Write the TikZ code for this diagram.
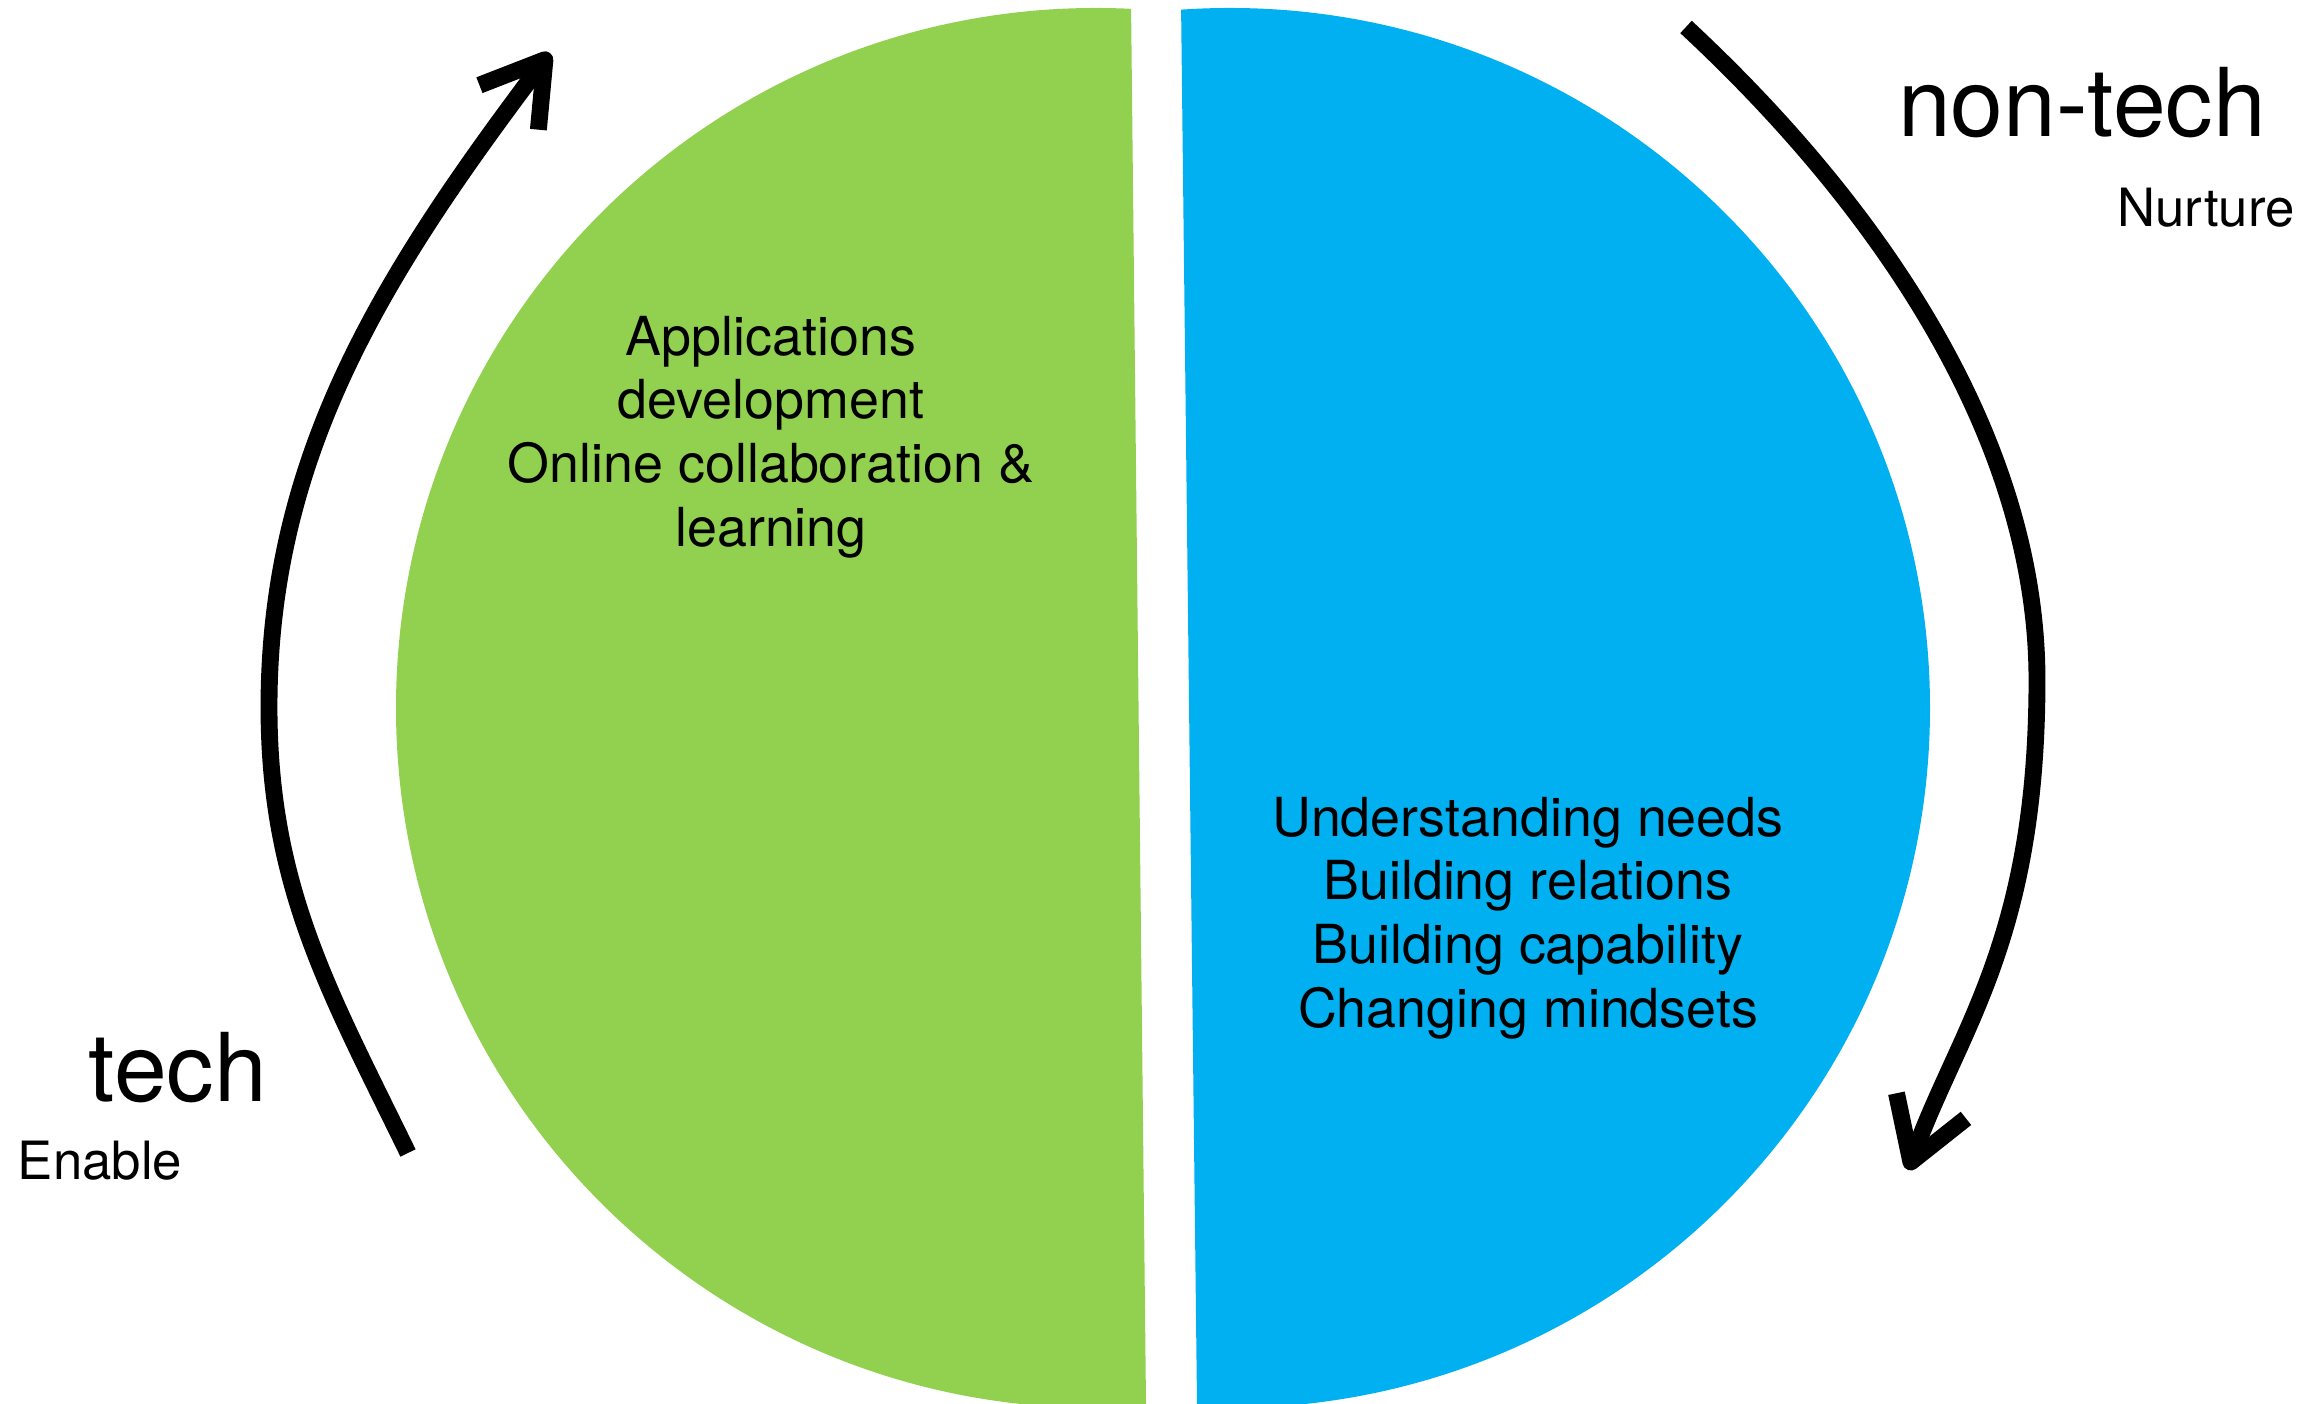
\documentclass[tikz,border=0pt]{standalone}
\usepackage{fontspec}
\setmainfont{TeX Gyre Heros}
\usetikzlibrary{arrows.meta}
\definecolor{techgreen}{HTML}{92D050}
\definecolor{nontechblue}{HTML}{00B0F0}
\tikzset{
  cyclearrow/.style={line width=4.8pt, -{Straight Barb[length=17pt, width=21pt, line join=round]}},
  bigtag/.style={font=\fontsize{27}{32}\selectfont, inner sep=0pt, anchor=base},
  smalltag/.style={font=\fontsize{15}{18}\selectfont, inner sep=0pt, anchor=base},
  halftext/.style={font=\fontsize{15.3}{18.1}\selectfont, align=center, inner sep=0pt}
}

\begin{document}
\begin{tikzpicture}[x=0.01cm, y=0.01cm]
\useasboundingbox (0,0) rectangle (2323,1404);

% tech half
\begin{scope}
  \clip (0,0) -- (1146,0) -- (1131,1404) -- (0,1404) -- cycle;
  \fill[techgreen] (1096,696) circle[radius=700];
\end{scope}
% non-tech half
\begin{scope}
  \clip (1197,0) -- (2323,0) -- (2323,1404) -- (1181,1404) -- cycle;
  \fill[nontechblue] (1230,696) circle[radius=700];
\end{scope}

\node[halftext] (techtext) at (771,967) {Applications\\development\\Online collaboration \&\\learning};
\node[halftext] (nontechtext) at (1528,486) {Understanding needs\\Building relations\\Building capability\\Changing mindsets};

% labels
\node[bigtag] (nontechlabel) at (2082,1267) {non-tech};
\node[smalltag] (nurturelabel) at (2206,1177) {Nurture};
\node[bigtag] (techlabel) at (178,302) {tech};
\node[smalltag] (enablelabel) at (100,224) {Enable};

% cycle arrows
\coordinate (techstart) at (408,251);
\coordinate (techturn) at (269,697);
\coordinate (techend) at (550,1351);
\draw[cyclearrow] (techstart) .. controls (329,413) and (269,517) .. (techturn)
  .. controls (269,947) and (381,1127) .. (techend);

\coordinate (nontechstart) at (1686,1377);
\coordinate (nontechturn) at (2037,724);
\coordinate (nontechend) at (1908,234);
\draw[cyclearrow] (nontechstart) .. controls (1869,1207) and (2037,974) .. (nontechturn)
  .. controls (2037,464) and (1959,375) .. (nontechend);
\end{tikzpicture}
\end{document}
